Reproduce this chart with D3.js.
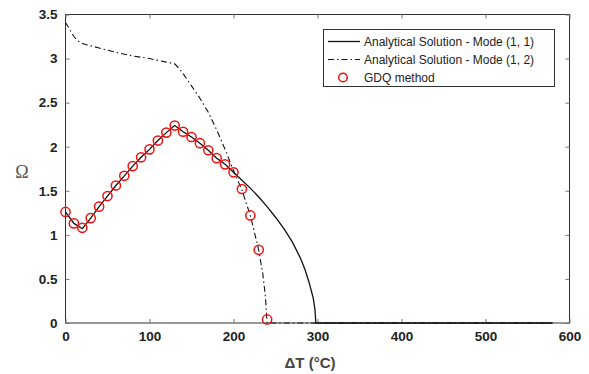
<!DOCTYPE html>
<html><head><meta charset="utf-8">
<script src="https://cdn.jsdelivr.net/npm/d3@7"></script>
<style>body{margin:0;background:#fff;}svg{display:block;}</style>
</head><body>
<script>
// Data
const xTicks = [0,100,200,300,400,500,600];
const yTicks = [0,0.5,1,1.5,2,2.5,3,3.5];
const gdqT = [0,10,20,30,40,50,60,70,80,90,100,110,120,130,140,150,160,170,180,190,200,210,220,230,240];
const gdqW = [1.26,1.13,1.08,1.19,1.32,1.44,1.56,1.67,1.78,1.88,1.97,2.07,2.16,2.24,2.17,2.11,2.04,1.96,1.87,1.80,1.71,1.52,1.22,0.83,0.04];
const mode11T = [0,10,20,30,40,50,60,70,80,90,100,110,120,130,140,150,160,170,180,190,200,210,220,230,240,250,260,270,280,285,290,295,297,298,580];
const mode11W = [1.26,1.13,1.07,1.19,1.32,1.44,1.56,1.67,1.78,1.88,1.97,2.07,2.16,2.24,2.17,2.11,2.04,1.96,1.87,1.80,1.71,1.62,1.53,1.43,1.32,1.20,1.07,0.92,0.73,0.61,0.46,0.28,0.15,0,0];
const mode12T = [0,5,10,15,20,40,60,80,100,120,130,135,140,150,160,170,180,190,200,205,210,220,230,235,238,240,580];
const mode12W = [3.41,3.33,3.25,3.20,3.17,3.12,3.07,3.03,3.00,2.96,2.94,2.89,2.83,2.69,2.55,2.39,2.19,1.97,1.73,1.62,1.51,1.22,0.83,0.55,0.30,0.0,0.0];
const legendLabels = ["Analytical Solution - Mode (1, 1)","Analytical Solution - Mode (1, 2)","GDQ method"];

const W=589,H=374;
const m={l:65.5,r:569.5,t:14.5,b:323};
const svg=d3.select("body").append("svg").attr("width",W).attr("height",H);
const x=d3.scaleLinear().domain([0,600]).range([m.l,m.r]);
const y=d3.scaleLinear().domain([0,3.5]).range([m.b,m.t]);

const axisColor="#333";
const tickFont="Liberation Sans, Arial, sans-serif";

// frame
svg.append("rect").attr("x",m.l).attr("y",m.t).attr("width",m.r-m.l).attr("height",m.b-m.t)
  .attr("fill","none").attr("stroke",axisColor).attr("stroke-width",1);

// axes
const gx=svg.append("g").attr("transform",`translate(0,${m.b})`)
  .call(d3.axisBottom(x).tickValues(xTicks).tickSize(-4).tickPadding(8).tickFormat(d3.format("d")));
const gxt=svg.append("g").attr("transform",`translate(0,${m.t})`)
  .call(d3.axisTop(x).tickValues(xTicks).tickSize(-4).tickFormat(""));
const gy=svg.append("g").attr("transform",`translate(${m.l},0)`)
  .call(d3.axisLeft(y).tickValues(yTicks).tickSize(-4).tickPadding(8).tickFormat(d=>String(d)));
const gyr=svg.append("g").attr("transform",`translate(${m.r},0)`)
  .call(d3.axisRight(y).tickValues(yTicks).tickSize(-4).tickFormat(""));
[gx,gxt,gy,gyr].forEach(g=>{
  g.select(".domain").remove();
  g.selectAll(".tick line").attr("stroke","#777");
  g.selectAll("text").attr("font-family",tickFont).attr("font-size",13.5).attr("font-weight","bold").attr("fill","#222");
});
gx.selectAll("text").attr("dy","0.71em");

// lines
const line=d3.line().x(d=>x(d[0])).y(d=>y(d[1]));
svg.append("path").datum(mode12T.map((t,i)=>[t,mode12W[i]]))
  .attr("d",line).attr("fill","none").attr("stroke","#111").attr("stroke-width",1.1)
  .attr("stroke-dasharray","6,3,1.5,3");
svg.append("path").datum(mode11T.map((t,i)=>[t,mode11W[i]]))
  .attr("d",line).attr("fill","none").attr("stroke","#111").attr("stroke-width",1.3);

// GDQ points
svg.append("g").selectAll("circle").data(gdqT.map((t,i)=>[t,gdqW[i]])).join("circle")
  .attr("cx",d=>x(d[0])).attr("cy",d=>y(d[1])).attr("r",4.6)
  .attr("fill","none").attr("stroke","#f01010").attr("stroke-width",1.5);

// axis labels
svg.append("text").attr("x",310).attr("y",368).attr("text-anchor","middle")
  .attr("font-family",tickFont).attr("font-size",15).attr("font-weight","bold").attr("fill","#444")
  .text("ΔT (°C)");
svg.append("text").attr("x",22).attr("y",178).attr("text-anchor","middle")
  .attr("font-family","Liberation Serif, Times New Roman, serif").attr("font-size",18).attr("fill","#555")
  .text("Ω");

// legend
const lg=svg.append("g");
lg.append("rect").attr("x",323.5).attr("y",29.5).attr("width",231).attr("height",57)
  .attr("fill","#fff").attr("stroke","#333").attr("stroke-width",1);
const rows=[41.5,59.5,77.5];
lg.append("line").attr("x1",328).attr("x2",360).attr("y1",rows[0]).attr("y2",rows[0]).attr("stroke","#111").attr("stroke-width",1.3);
lg.append("line").attr("x1",328).attr("x2",360).attr("y1",rows[1]).attr("y2",rows[1]).attr("stroke","#111").attr("stroke-width",1.1).attr("stroke-dasharray","6,3,1.5,3");
lg.append("circle").attr("cx",343).attr("cy",rows[2]).attr("r",4.3).attr("fill","none").attr("stroke","#f01010").attr("stroke-width",1.5);
lg.selectAll("text.l").data(legendLabels).join("text").attr("class","l")
  .attr("x",364).attr("y",(d,i)=>rows[i]).attr("dy","0.35em")
  .attr("font-family",tickFont).attr("font-size",12).attr("fill","#222").text(d=>d);
</script>
</body></html>
